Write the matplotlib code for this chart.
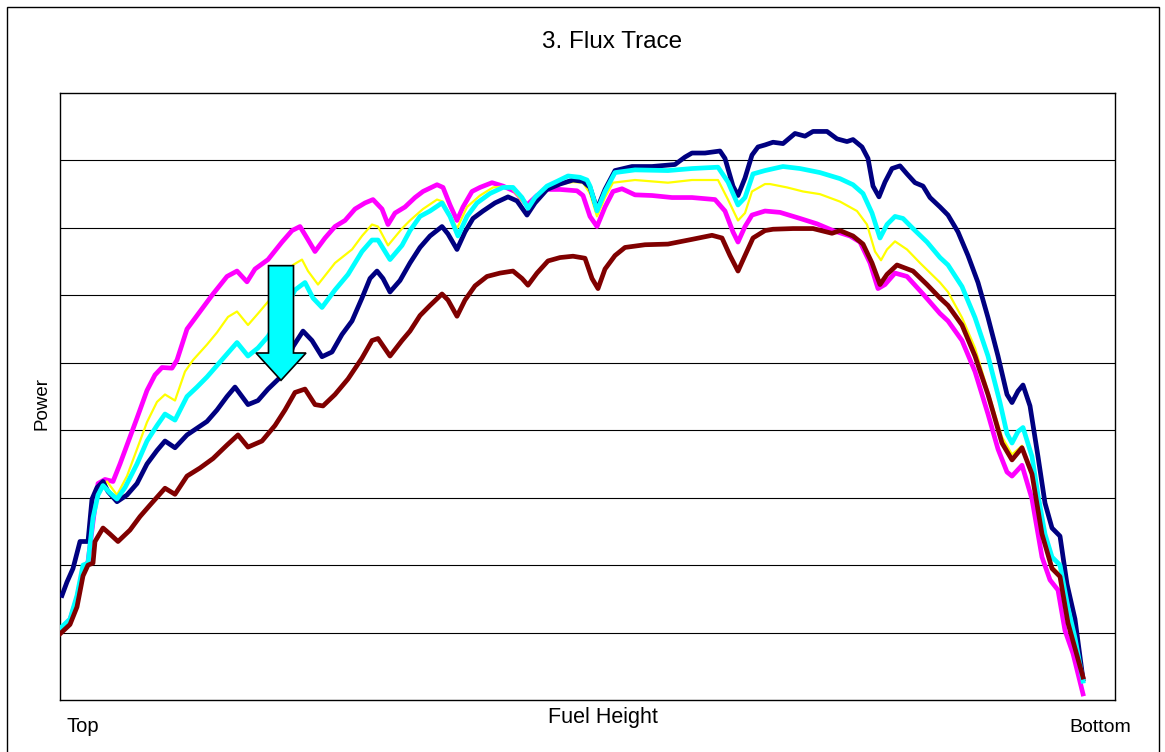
import matplotlib
matplotlib.use("Agg")
import matplotlib.pyplot as plt
from matplotlib.patches import Rectangle

plt.rcParams["font.family"] = ["Liberation Sans", "DejaVu Sans"]

# Axial position along the fuel column (0 = top) and relative power per trace
navy_pos = [2, 7, 13, 20, 28, 32, 37, 43, 48, 57, 67, 77, 87, 97, 105, 115, 127, 137, 147, 157,
            167, 175, 188, 198, 208, 222, 233, 243, 252, 262, 272, 282, 292, 302, 310, 317, 323,
            330, 340, 350, 360, 370, 382, 388, 397, 405, 413, 423, 435, 448, 457, 467, 475, 487,
            500, 513, 523, 530, 537, 545, 555, 572, 592, 615, 625, 632, 645, 660, 665, 673, 678,
            685, 692, 698, 705, 713, 723, 735, 745, 753, 767, 777, 787, 793, 802, 808, 813, 819,
            825, 832, 840, 847, 855, 863, 870, 880, 888, 898, 908, 918, 928, 938, 947, 952, 958,
            963, 970, 978, 985, 992, 1000, 1007, 1015, 1023]
navy_power = [15.5, 17.5, 19.5, 23.5, 23.5, 29.8, 31.5, 32.4, 30.9, 29.4, 30.4, 32.1, 35.0, 37.0,
              38.4, 37.4, 39.3, 40.3, 41.3, 43.0, 45.0, 46.4, 43.8, 44.4, 46.1, 48.1, 52.4, 54.7,
              53.3, 50.9, 51.6, 54.2, 56.2, 59.6, 62.5, 63.6, 62.5, 60.5, 62.2, 64.8, 67.1, 68.8,
              70.2, 69.1, 66.8, 69.4, 71.4, 72.5, 73.7, 74.6, 74.0, 71.9, 73.7, 75.7, 76.5, 77.1,
              76.9, 76.0, 72.8, 75.7, 78.5, 79.1, 79.1, 79.4, 80.5, 81.1, 81.1, 81.4, 80.3, 76.2,
              74.8, 77.4, 80.8, 82.0, 82.3, 82.7, 82.5, 84.0, 83.6, 84.3, 84.3, 83.2, 82.8, 83.1,
              82.0, 80.3, 76.2, 74.6, 76.8, 78.8, 79.2, 78.0, 76.7, 76.2, 74.5, 73.1, 71.9, 69.4,
              65.9, 61.9, 56.7, 51.0, 45.3, 44.1, 45.8, 46.7, 43.6, 36.1, 29.2, 25.5, 24.3, 17.2,
              12.0, 3.1]

cyan_pos = [0, 10, 17, 23, 28, 33, 38, 43, 50, 57, 65, 77, 87, 97, 105, 115, 127, 137, 147, 157,
            167, 177, 188, 198, 208, 225, 235, 245, 253, 262, 275, 288, 302, 312, 318, 330, 342,
            350, 360, 370, 382, 390, 398, 407, 417, 430, 443, 453, 462, 468, 475, 487, 497, 508,
            520, 527, 530, 537, 545, 555, 575, 608, 632, 658, 668, 678, 685, 693, 705, 723, 740,
            760, 780, 793, 803, 812, 820, 827, 835, 843, 853, 867, 880, 888, 902, 915, 928, 940,
            947, 952, 958, 963, 972, 978, 985, 992, 1000, 1008, 1015, 1023]
cyan_power = [10.6, 12.0, 15.5, 20.0, 20.3, 27.0, 30.4, 31.8, 30.7, 29.8, 31.5, 35.0, 38.4, 40.7,
              42.4, 41.5, 45.0, 46.4, 47.9, 49.6, 51.3, 53.0, 51.0, 52.2, 53.9, 57.9, 60.8, 61.9,
              59.6, 58.2, 60.8, 63.1, 66.5, 68.2, 68.2, 65.3, 67.4, 69.6, 71.7, 72.5, 73.7, 71.7,
              68.8, 71.7, 73.7, 75.1, 76.0, 76.0, 74.5, 72.9, 74.5, 76.2, 76.9, 77.7, 77.5, 77.1,
              76.2, 72.5, 75.4, 78.2, 78.6, 78.5, 78.8, 79.0, 76.8, 73.4, 74.5, 78.0, 78.5, 79.1,
              78.8, 78.2, 77.3, 76.4, 75.1, 72.2, 68.5, 70.5, 71.7, 71.4, 69.9, 67.9, 65.6, 64.5,
              61.3, 56.7, 51.0, 44.1, 39.5, 38.1, 39.8, 40.4, 36.1, 30.4, 24.6, 21.2, 20.0, 13.7,
              9.2, 2.8]

yellow_pos = [0, 10, 17, 23, 28, 35, 40, 47, 57, 67, 77, 87, 97, 105, 115, 125, 133, 147, 157, 168,
              177, 188, 198, 218, 233, 242, 248, 258, 275, 292, 302, 312, 318, 328, 342, 350, 363,
              377, 383, 397, 407, 420, 433, 450, 467, 480, 497, 513, 523, 530, 537, 545, 553, 575,
              608, 632, 658, 668, 678, 685, 692, 705, 710, 727, 743, 760, 780, 797, 807, 815, 821,
              827, 835, 847, 860, 880, 888, 902, 915, 928, 942, 952, 962, 972, 982, 992, 1000, 1008,
              1023]
yellow_power = [10.1, 11.6, 14.8, 19.3, 20.3, 29.2, 31.0, 32.4, 30.4, 33.2, 37.2, 41.2, 44.2, 45.3,
                44.4, 48.7, 50.4, 52.7, 54.5, 56.8, 57.6, 55.6, 57.3, 60.8, 64.5, 65.3, 63.6, 61.6,
                64.8, 66.8, 68.8, 70.5, 70.2, 67.4, 69.9, 71.1, 72.8, 74.2, 73.9, 69.9, 73.1, 74.8,
                76.0, 76.2, 73.1, 75.1, 76.4, 76.8, 76.7, 75.1, 71.7, 74.5, 76.7, 77.1, 76.7, 77.1,
                77.1, 74.2, 71.1, 72.2, 75.4, 76.5, 76.5, 76.0, 75.4, 75.0, 73.9, 72.5, 70.5, 66.5,
                65.2, 66.8, 68.0, 66.8, 64.8, 61.9, 60.5, 56.7, 52.2, 45.8, 39.0, 36.4, 37.7, 33.8,
                25.2, 19.8, 18.6, 12.6, 2.8]

magenta_pos = [0, 10, 17, 23, 28, 33, 38, 45, 53, 60, 67, 77, 87, 95, 102, 112, 117, 127, 140, 153,
               167, 177, 187, 195, 208, 222, 232, 240, 247, 255, 265, 275, 285, 295, 305, 313, 322,
               328, 335, 345, 355, 363, 377, 383, 390, 397, 403, 412, 420, 432, 443, 455, 467, 477,
               487, 500, 517, 523, 530, 537, 545, 553, 562, 575, 592, 612, 632, 655, 665, 673, 678,
               685, 692, 705, 720, 740, 757, 773, 790, 800, 810, 818, 825, 835, 847, 863, 880, 888,
               902, 915, 928, 938, 947, 952, 962, 972, 982, 990, 998, 1005, 1013, 1023]
magenta_power = [10.4, 11.9, 15.1, 19.3, 20.5, 26.4, 32.1, 32.7, 32.4, 35.0, 37.8, 41.8, 45.9, 48.2,
                 49.3, 49.2, 50.4, 55.0, 57.6, 60.2, 62.8, 63.6, 62.0, 63.9, 65.3, 67.9, 69.6, 70.2,
                 68.5, 66.5, 68.5, 70.2, 71.1, 72.8, 73.7, 74.2, 72.8, 70.5, 72.2, 73.1, 74.5, 75.4,
                 76.4, 76.0, 73.4, 71.1, 73.1, 75.4, 76.0, 76.7, 76.2, 75.4, 73.4, 74.8, 75.7, 75.7,
                 75.5, 74.8, 71.7, 70.2, 73.1, 75.4, 75.8, 74.9, 74.8, 74.5, 74.5, 74.2, 72.5, 69.4,
                 67.9, 70.2, 71.9, 72.5, 72.3, 71.4, 70.6, 69.6, 68.8, 67.9, 64.8, 61.0, 61.6, 63.3,
                 62.8, 60.2, 57.3, 56.2, 53.3, 48.7, 42.4, 37.2, 33.8, 33.2, 34.8, 29.8, 21.2, 17.8,
                 16.3, 10.3, 6.9, 0.9]

maroon_pos = [0, 10, 17, 23, 28, 33, 35, 43, 50, 58, 70, 80, 90, 105, 115, 127, 140, 153, 167, 178,
              188, 202, 215, 225, 235, 245, 255, 263, 275, 288, 302, 312, 318, 330, 342, 350, 360,
              370, 382, 388, 397, 405, 415, 427, 440, 453, 462, 468, 477, 488, 500, 513, 525, 532,
              538, 545, 555, 565, 585, 608, 632, 652, 662, 670, 678, 685, 693, 705, 713, 733, 753,
              772, 780, 793, 803, 812, 820, 827, 837, 853, 867, 880, 888, 902, 915, 928, 942, 952,
              962, 972, 982, 992, 1000, 1008, 1023]
maroon_power = [9.8, 11.2, 13.8, 18.4, 20.0, 20.3, 23.5, 25.5, 24.6, 23.5, 25.2, 27.2, 28.9, 31.4,
                30.5, 33.2, 34.4, 35.8, 37.8, 39.3, 37.5, 38.4, 40.7, 43.0, 45.6, 46.1, 43.8, 43.6,
                45.3, 47.6, 50.7, 53.3, 53.6, 51.0, 53.3, 54.7, 57.0, 58.5, 60.2, 59.3, 56.9, 59.3,
                61.4, 62.8, 63.3, 63.6, 62.5, 61.5, 63.3, 65.1, 65.6, 65.8, 65.5, 62.5, 61.0, 63.9,
                65.9, 67.1, 67.5, 67.6, 68.3, 68.9, 68.5, 65.9, 63.6, 65.9, 68.5, 69.6, 69.8, 69.9,
                69.9, 69.2, 69.6, 68.8, 67.6, 64.8, 61.6, 63.1, 64.5, 63.6, 61.6, 59.6, 58.5, 55.6,
                51.0, 45.3, 38.1, 35.6, 37.4, 33.5, 24.6, 19.5, 18.3, 11.4, 3.4]

grid_levels = [10, 20, 30, 40, 50, 60, 70, 80]

W, H = 1165, 752
fig = plt.figure(figsize=(W / 100, H / 100), dpi=100)
fig.patch.set_facecolor("white")

# outer chart-area frame
fig.patches.append(Rectangle((7 / W, -0.01), (1159 - 7) / W, (H - 7) / H + 0.01,
                             transform=fig.transFigure, fill=False, edgecolor="black",
                             linewidth=1.0))

ax = fig.add_axes([60 / W, (H - 700) / H, (1115 - 60) / W, (700 - 93) / H])
ax.set_xlim(0, 1055)
ax.set_ylim(0, 90)
ax.set_xticks([])
ax.set_yticks([])
for s in ax.spines.values():
    s.set_color("black")
    s.set_linewidth(1.0)

for g in grid_levels:
    ax.axhline(g, color="black", linewidth=0.8, zorder=1)

ax.plot(magenta_pos, magenta_power, color="#FF00FF", linewidth=3.4, solid_joinstyle="round", zorder=3)
ax.plot(yellow_pos, yellow_power, color="#FFFF00", linewidth=1.6, solid_joinstyle="round", zorder=4)
ax.plot(navy_pos, navy_power, color="#000080", linewidth=3.4, solid_joinstyle="round", zorder=5)
ax.plot(cyan_pos, cyan_power, color="#00FFFF", linewidth=3.4, solid_joinstyle="round", zorder=6)
ax.plot(maroon_pos, maroon_power, color="#800000", linewidth=3.4, solid_joinstyle="round", zorder=7)

# downward arrow showing the shift of the trace
ax.arrow(221, 64.4, 0, -17.0, width=25, head_width=50, head_length=4.05,
         length_includes_head=True, facecolor="#00FFFF", edgecolor="black",
         linewidth=1.2, zorder=8)

fig.text(612 / W, 1 - 42 / H, "3. Flux Trace", ha="center", va="center", fontsize=17.5)
fig.text(603 / W, 1 - 717 / H, "Fuel Height", ha="center", va="center", fontsize=15.5)
fig.text(42 / W, 1 - 403 / H, "Power", ha="center", va="center", rotation=90, fontsize=13.5)
fig.text(83 / W, 1 - 727 / H, "Top", ha="center", va="center", fontsize=14.5)
fig.text(1100 / W, 1 - 727 / H, "Bottom", ha="center", va="center", fontsize=14)

fig.savefig("out.png", dpi=100, facecolor="white")
